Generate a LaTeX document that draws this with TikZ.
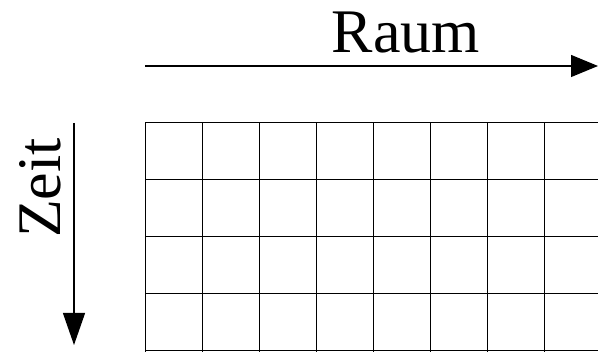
\documentclass[tikz,border=0pt]{standalone}
\usepackage{fontspec}
\setmainfont{Liberation Serif}
\usetikzlibrary{arrows.meta}
\begin{document}
\begin{tikzpicture}[x=1pt,y=1pt,
  gridline/.style={line width=1pt,black},
  axisarrow/.style={line width=1.2pt,-{Triangle[length=27pt,width=22pt]}},
  vaxisarrow/.style={line width=1.2pt,-{Triangle[length=32pt,width=22pt]}},
  bigtext/.style={font=\fontsize{62}{62}\selectfont,inner sep=0pt}]
\useasboundingbox (0,0) rectangle (598,352);
\begin{scope}
\clip (0,0) rectangle (598,352);
\foreach \x in {145,202,259,316,373,430,487,544}
  \draw[gridline] (\x,229) -- (\x,0);
\foreach \y in {229,172,115,58,1}
  \draw[gridline] (145,\y) -- (610,\y);
\end{scope}
\coordinate (hs) at (145,286);
\coordinate (he) at (598,286);
\coordinate (vs) at (74,229);
\coordinate (ve) at (74,7);
\draw[axisarrow] (hs) -- (he);
\draw[vaxisarrow] (vs) -- (ve);
\node[bigtext,anchor=base] (raum) at (406,299) {Raum};
\node[bigtext,anchor=base,rotate=90] (zeit) at (60,164) {Zeit};
\end{tikzpicture}
\end{document}
